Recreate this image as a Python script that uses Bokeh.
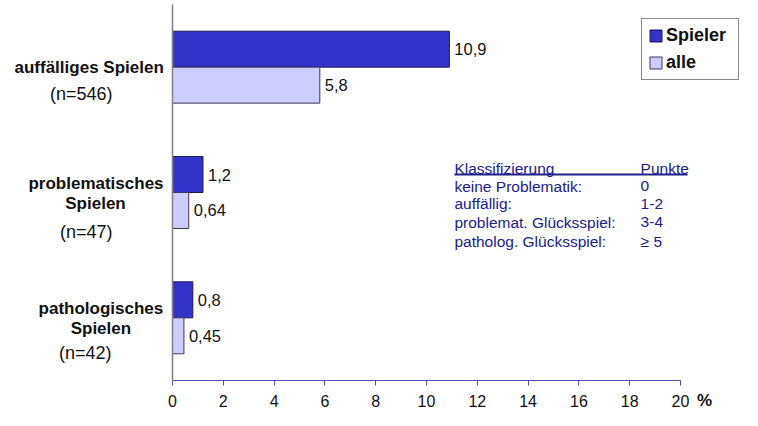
from bokeh.plotting import figure
from bokeh.models import Range1d, FixedTicker, Legend, LegendItem, ColumnDataSource, LinearAxis
from bokeh.core.properties import value
from bokeh.embed import file_html
from bokeh.resources import INLINE

# ---- data ----
categories = ["auffälliges Spielen", "problematisches Spielen", "pathologisches Spielen"]
n_labels = ["(n=546)", "(n=47)", "(n=42)"]
spieler = [10.9, 1.2, 0.8]
alle = [5.8, 0.64, 0.45]
x_ticks = [0, 2, 4, 6, 8, 10, 12, 14, 16, 18, 20]
table_left = ["Klassifizierung", "keine Problematik:", "auffällig:", "problemat. Glücksspiel:", "patholog. Glücksspiel:"]
table_right = ["Punkte", "0", "1-2", "3-4", "≥ 5"]

FONT = "Liberation Sans"
C_SP = "#3333CC"
C_AL = "#CCCCFF"
NAVY = "#20208C"
INK = "#111111"

W, H = 742, 410
PX = 25.4          # pixels per percent
PY = 376.0 / 3     # pixels per category
X0, Y0 = 172, 4    # position of the axes' origin (top-left of the category band)
p = figure(width=W, height=H, output_backend="svg", toolbar_location=None,
           x_axis_type=None, y_axis_type=None,
           x_range=Range1d(-X0 / PX, (W - X0) / PX),
           y_range=Range1d((H - Y0) / PY, -Y0 / PY),
           min_border_left=0, min_border_right=0, min_border_top=0, min_border_bottom=0)
p.outline_line_color = None
p.background_fill_color = "white"
p.border_fill_color = "white"

bh = 0.287
yc = [i + 0.5 for i in range(len(categories))]
y_sp = [y - bh / 2 for y in yc]
y_al = [y + bh / 2 for y in yc]

fmt = lambda v: str(v).replace(".", ",")
src_sp = ColumnDataSource(dict(y=y_sp, v=spieler, t=[fmt(v) for v in spieler]))
src_al = ColumnDataSource(dict(y=y_al, v=alle, t=[fmt(v) for v in alle]))

r_sp = p.hbar(y="y", right="v", left=0, height=bh, source=src_sp,
              fill_color=C_SP, line_color="#1A1A55", line_width=1)
r_al = p.hbar(y="y", right="v", left=0, height=bh, source=src_al,
              fill_color=C_AL, line_color="#3A3A55", line_width=1)

for src in (src_sp, src_al):
    p.text(x="v", y="y", text="t", source=src, x_offset=5,
           text_font=value(FONT), text_font_size="16.5px", text_color=INK,
           text_baseline="middle", text_align="left")

# axes (fixed inside the frame)
xa = LinearAxis(fixed_location=3, ticker=FixedTicker(ticks=x_ticks), bounds=(0, 20))
xa.axis_line_color = "#5050B0"
xa.major_tick_line_color = "#5050B0"
xa.major_tick_in = 0
xa.major_tick_out = 5
xa.minor_tick_line_color = None
xa.major_label_standoff = 9
xa.major_label_text_font = FONT
xa.major_label_text_font_size = "16px"
xa.major_label_text_color = INK
p.add_layout(xa, "below")

ya = LinearAxis(fixed_location=0, bounds=(0, 3), ticker=FixedTicker(ticks=[]))
ya.axis_line_color = "#808080"
ya.axis_line_width = 1.5
ya.major_tick_line_color = None
ya.minor_tick_line_color = None
ya.major_label_text_font_size = "0px"
p.add_layout(ya, "left")

# percent sign
p.text(x=[20.95], y=[3 + 19.5 / PY], text=["%"], text_font=value(FONT), text_font_size="17px",
       text_font_style="bold", text_align="center", text_baseline="middle", text_color=INK)

# category labels (left of axis)
bold_txt = ["auffälliges Spielen", "problematisches", "Spielen", "pathologisches", "Spielen"]
bold_x = [-3.282, -3.012, -3.031, -2.819, -2.819]
bold_y = [0.504, 1.426, 1.589, 2.426, 2.589]
p.text(x=bold_x, y=bold_y, text=bold_txt, text_font=value(FONT), text_font_size="17px",
       text_font_style="bold", text_align="center", text_baseline="middle", text_color=INK)
p.text(x=[-3.591, -3.398, -3.436], y=[0.713, 1.814, 2.783], text=n_labels,
       text_font=value(FONT), text_font_size="18px",
       text_align="center", text_baseline="middle", text_color=INK)

# classification table
row_y = [1.310, 1.450, 1.589, 1.736, 1.891]
p.text(x=[11.10] * len(table_left), y=row_y, text=table_left,
       text_font=value(FONT), text_font_size="15.5px", text_color=NAVY,
       text_baseline="middle", text_align="left")
p.text(x=[18.43] * len(table_right), y=row_y, text=table_right,
       text_font=value(FONT), text_font_size="15.5px", text_color=NAVY,
       text_baseline="middle", text_align="left")
p.segment(x0=[11.10], x1=[20.28], y0=[1.357], y1=[1.357], line_color=NAVY, line_width=2)

# legend
legend = Legend(items=[LegendItem(label="Spieler", renderers=[r_sp]),
                       LegendItem(label="alle", renderers=[r_al])],
                location=(641, 330), orientation="vertical",
                border_line_color=INK, border_line_width=1,
                background_fill_color="white", background_fill_alpha=1,
                label_text_font=FONT, label_text_font_size="18px",
                label_text_font_style="bold", label_text_color=INK,
                glyph_width=15, glyph_height=15, label_standoff=3,
                label_height=20, spacing=6, padding=6, margin=0, label_width=66)
p.add_layout(legend, "center")

open("out.html", "w").write(file_html(p, INLINE))
